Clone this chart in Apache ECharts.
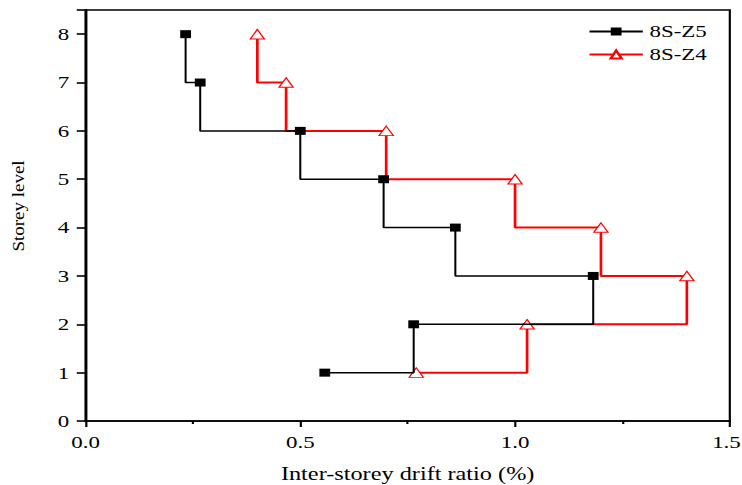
<!DOCTYPE html>
<html>
<head>
<meta charset="utf-8">
<script src="https://cdn.jsdelivr.net/npm/echarts@6/dist/echarts.min.js"></script>
<style>
  html, body { margin: 0; padding: 0; background: #fff; overflow: hidden; }
  /* the source figure is stretched sideways, so draw narrow and stretch */
  #chart { width: 550px; height: 485px; transform: scaleX(1.349); transform-origin: 0 0; }
</style>
</head>
<body>
<div id="chart"></div>
<script type="text/javascript">
// storey levels, top to bottom (order of the step path)
var storeys = [8, 7, 6, 5, 4, 3, 2, 1];
// inter-storey drift ratio (%)
var driftZ5 = [0.233, 0.267, 0.500, 0.694, 0.861, 1.182, 0.764, 0.557];
var driftZ4 = [0.400, 0.467, 0.700, 1.000, 1.200, 1.400, 1.028, 0.770];

function pairs(xs, ys) {
    var out = [];
    for (var i = 0; i < xs.length; i++) {
        out.push([xs[i], ys[i]]);
    }
    return out;
}

var serif = 'Liberation Serif';
var chart = echarts.init(document.getElementById('chart'), null, { renderer: 'svg' });

var option = {
    backgroundColor: '#fff',
    animation: false,
    grid: {
        left: 63.4,
        right: 9,
        top: 10,
        bottom: 64,
        outerBoundsMode: 'none',
        show: true,
        borderColor: '#000',
        borderWidth: 1.6,
        backgroundColor: 'transparent'
    },
    legend: {
        orient: 'vertical',
        right: 21,
        top: 18,
        itemWidth: 39.5,
        itemHeight: 10,
        itemGap: 6,
        textStyle: { fontFamily: serif, fontSize: 17, color: '#000' },
        data: ['8S-Z5', '8S-Z4']
    },
    // y title is drawn by hand: it is tall and thin in the source
    graphic: [{
        type: 'text',
        x: 13.5,
        y: 206,
        rotation: Math.PI / 2,
        scaleY: 0.68,
        style: {
            text: 'Storey level',
            fontFamily: serif,
            fontSize: 19,
            fill: '#000',
            align: 'center',
            verticalAlign: 'middle'
        }
    }],
    xAxis: {
        type: 'value',
        min: 0,
        max: 1.5,
        interval: 0.5,
        name: 'Inter-storey drift ratio (%)',
        nameLocation: 'middle',
        nameGap: 44,
        nameTextStyle: { fontFamily: serif, fontSize: 18, color: '#000' },
        axisLine: { show: true, lineStyle: { color: '#000', width: 1.6 } },
        axisTick: { show: true, length: 6, lineStyle: { color: '#000', width: 1.6 } },
        minorTick: { show: true, splitNumber: 2, length: 3, lineStyle: { color: '#000', width: 1.6 } },
        axisLabel: {
            fontFamily: serif, fontSize: 17, color: '#000', margin: 13,
            formatter: function (v) {
                // last label sits on the page edge, nudge it in a little
                return v >= 1.5 ? '{edge|' + v.toFixed(1) + '}' : v.toFixed(1);
            },
            rich: {
                edge: { fontFamily: serif, fontSize: 17, color: '#000', padding: [0, 5, 0, 0] }
            }
        },
        splitLine: { show: false }
    },
    yAxis: {
        type: 'value',
        min: 0,
        max: 8.5,
        interval: 1,
        axisLine: { show: true, lineStyle: { color: '#000', width: 1.6 } },
        axisTick: { show: true, length: 6.5, lineStyle: { color: '#000', width: 1.6 } },
        axisLabel: {
            fontFamily: serif, fontSize: 17, color: '#000', margin: 12,
            formatter: function (v) { return v > 8 ? '' : String(v); }
        },
        splitLine: { show: false }
    },
    series: [
        {
            name: '8S-Z5',
            type: 'line',
            step: 'start',
            data: pairs(driftZ5, storeys),
            symbol: 'rect',
            symbolSize: 8,
            itemStyle: { color: '#000' },
            lineStyle: { color: '#000', width: 1.5 },
            z: 3
        },
        {
            name: '8S-Z4',
            type: 'line',
            step: 'start',
            data: pairs(driftZ4, storeys),
            symbol: 'triangle',
            symbolSize: [10.5, 9.5],
            itemStyle: { color: '#fff', borderColor: '#ff0000', borderWidth: 1 },
            lineStyle: { color: '#ff0000', width: 2 },
            z: 2
        }
    ]
};

chart.setOption(option);
</script>
</body>
</html>
